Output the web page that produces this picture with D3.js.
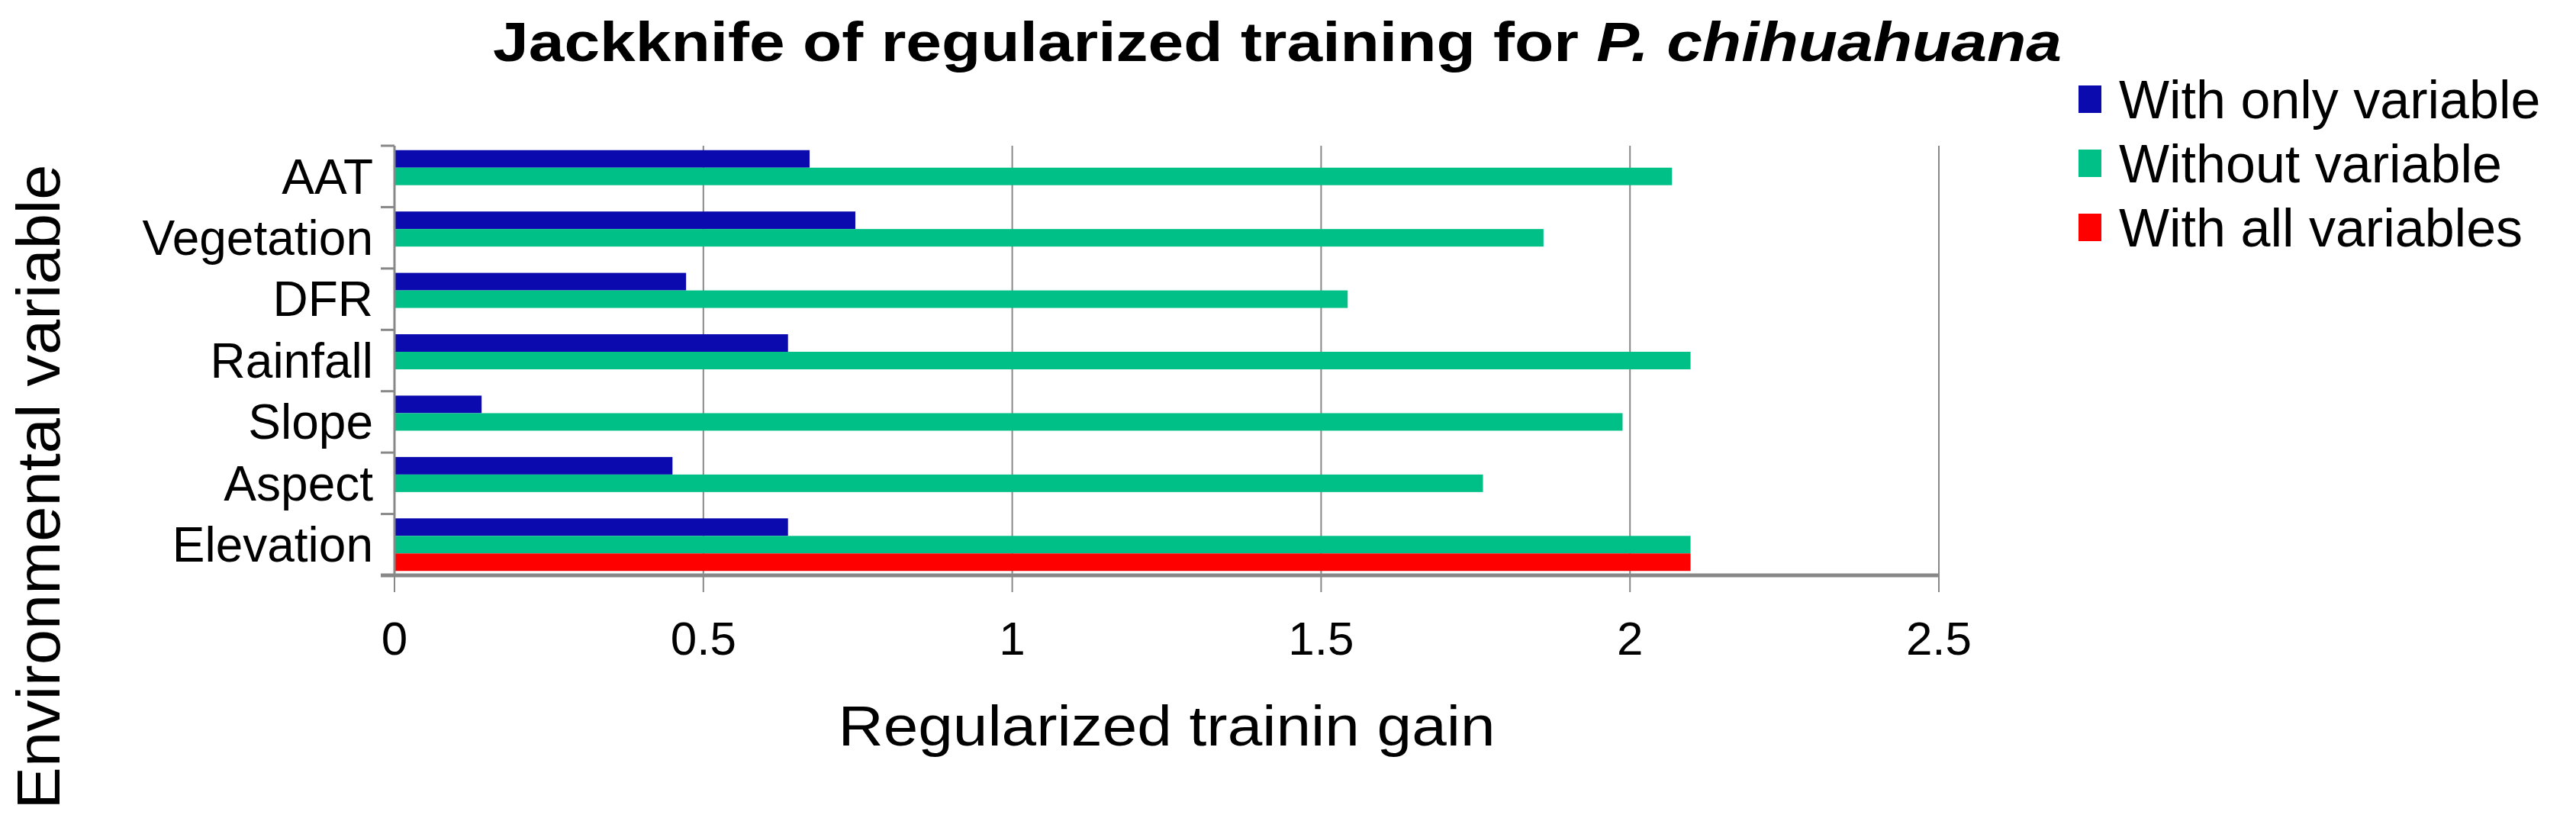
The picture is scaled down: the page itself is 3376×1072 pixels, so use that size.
<!DOCTYPE html>
<html>
<head>
<meta charset="utf-8">
<script src="https://cdn.jsdelivr.net/npm/d3@7"></script>
<style>
  body { margin: 0; background: #fff; }
  text { font-family: "Liberation Sans", Arial, sans-serif; fill: #000; }
</style>
</head>
<body>
<div id="chart"></div>
<script>
// Data
const variables = ["AAT", "Vegetation", "DFR", "Rainfall", "Slope", "Aspect", "Elevation"];
const withOnly = [0.672, 0.746, 0.472, 0.637, 0.141, 0.450, 0.637];
const withoutVar = [2.068, 1.860, 1.543, 2.098, 1.988, 1.762, 2.098];
const withAll = [null, null, null, null, null, null, 2.098];
const seriesNames = ["With only variable", "Without variable", "With all variables"];
const seriesColors = ["#0a0aae", "#00c087", "#ff0000"];
const xTicks = [0, 0.5, 1, 1.5, 2, 2.5];

const W = 3376, H = 1072;
const margin = { top: 191, left: 517, right: 835, bottom: 318 };
const width = W - margin.left - margin.right,
      height = H - margin.top - margin.bottom;

const svg = d3.select("#chart").append("svg")
    .attr("width", W)
    .attr("height", H);

const g = svg.append("g")
    .attr("transform", `translate(${margin.left}, ${margin.top})`);

const x = d3.scaleLinear().domain([0, 2.5]).range([0, width]);
const y = d3.scaleBand().domain(variables).range([0, height]).paddingInner(0).paddingOuter(0);
const sub = d3.scaleBand().domain([0, 1, 2]).range([0, y.bandwidth()]).paddingOuter(0.25).paddingInner(0);

// Gridlines (extend below axis like tick marks)
g.selectAll(".grid")
    .data(xTicks)
    .join("line")
    .attr("x1", d => x(d)).attr("x2", d => x(d))
    .attr("y1", 0).attr("y2", height + 22)
    .attr("stroke", "#888").attr("stroke-width", 2);

// Bars
const series = [withOnly, withoutVar, withAll];
series.forEach((vals, si) => {
    g.selectAll(".bar" + si)
        .data(variables.map((v, i) => ({ v, val: vals[i] })).filter(d => d.val != null))
        .join("rect")
        .attr("x", x(0))
        .attr("y", d => y(d.v) + sub(si))
        .attr("width", d => x(d.val) - x(0))
        .attr("height", sub.bandwidth())
        .attr("fill", seriesColors[si]);
});

// Left axis line and ticks
g.append("line")
    .attr("x1", 0).attr("x2", 0).attr("y1", 0).attr("y2", height)
    .attr("stroke", "#888").attr("stroke-width", 3);
g.selectAll(".ytick")
    .data(d3.range(variables.length + 1))
    .join("line")
    .attr("x1", -18).attr("x2", 0)
    .attr("y1", i => i * y.step()).attr("y2", i => i * y.step())
    .attr("stroke", "#888").attr("stroke-width", 3);

// Bottom axis line
g.append("line")
    .attr("x1", -18).attr("x2", width).attr("y1", height).attr("y2", height)
    .attr("stroke", "#888").attr("stroke-width", 5);

// Category labels
g.selectAll(".ylab")
    .data(variables)
    .join("text")
    .attr("x", -28)
    .attr("y", d => y(d) + y.bandwidth() / 2)
    .attr("dy", "0.35em")
    .attr("text-anchor", "end")
    .style("font-size", "64px")
    .text(d => d);

// Tick labels
g.selectAll(".xlab")
    .data(xTicks)
    .join("text")
    .attr("x", d => x(d))
    .attr("y", height + 82)
    .attr("dy", "0.35em")
    .attr("text-anchor", "middle")
    .style("font-size", "62px")
    .text(d => d);

// Axis titles
svg.append("text")
    .attr("x", 1529).attr("y", 951)
    .attr("dy", "0.35em")
    .attr("text-anchor", "middle")
    .attr("textLength", 861).attr("lengthAdjust", "spacingAndGlyphs")
    .style("font-size", "74px")
    .text("Regularized  trainin gain");

svg.append("text")
    .attr("transform", "translate(50, 638) rotate(-90)")
    .attr("dy", "0.35em")
    .attr("text-anchor", "middle")
    .attr("textLength", 845).attr("lengthAdjust", "spacingAndGlyphs")
    .style("font-size", "80px")
    .text("Environmental variable");

// Title
const title = svg.append("text")
    .attr("x", 1674).attr("y", 80)
    .attr("text-anchor", "middle")
    .attr("textLength", 2056).attr("lengthAdjust", "spacingAndGlyphs")
    .style("font-size", "72px")
    .style("font-weight", "bold");
title.append("tspan").text("Jackknife of regularized training for ");
title.append("tspan").style("font-style", "italic").text("P. chihuahuana");

// Legend
const legend = svg.append("g");
const legendY = [130, 214, 298];
seriesNames.forEach((name, i) => {
    legend.append("rect")
        .attr("x", 2724).attr("y", legendY[i] - 18)
        .attr("width", 30).attr("height", 36)
        .attr("fill", seriesColors[i]);
    legend.append("text")
        .attr("x", 2777).attr("y", legendY[i])
        .attr("dy", "0.35em")
        .style("font-size", "70px")
        .text(name);
});
</script>
</body>
</html>
